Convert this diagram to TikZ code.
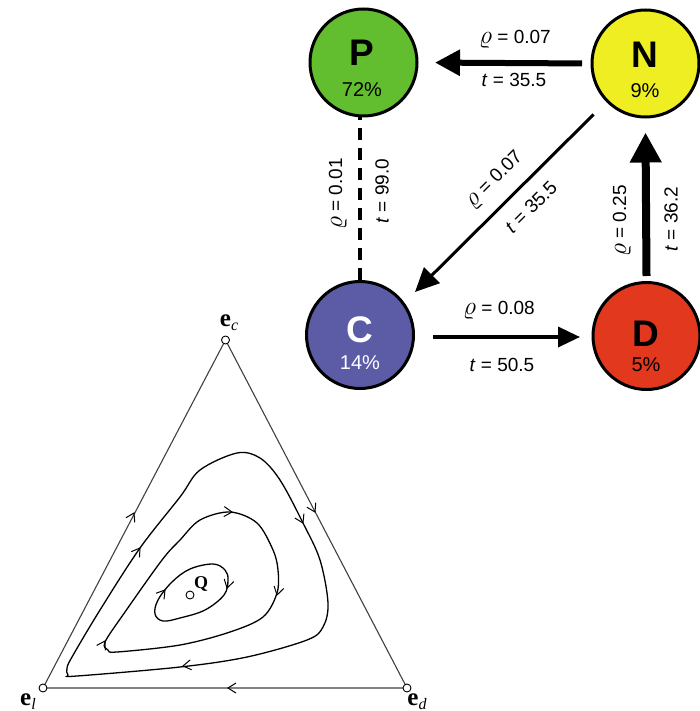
\RequirePackage{fix-cm}
\documentclass[tikz,border=0pt]{standalone}
\usepackage{fontspec}
\setmainfont{Liberation Sans}
\newfontfamily\tms{Liberation Serif}
\usetikzlibrary{arrows.meta,calc}
\definecolor{pgreen}{RGB}{98,189,47}
\definecolor{nyellow}{RGB}{238,238,34}
\definecolor{cblue}{RGB}{91,91,166}
\definecolor{dred}{RGB}{226,56,30}
\newcommand\mybarb[2]{\draw[barbline,shift={(#1)},rotate=#2] (-8,-5) -- (0,0) -- (-8,5);}
\newcommand\rh{\scalebox{1.35}{$\varrho$}}
\begin{document}
\begin{tikzpicture}[x=1pt,y=-1pt,
  state/.style={circle,draw=black,line width=3pt,minimum size=107pt,inner sep=0pt},
  big/.style={font=\fontsize{37}{37}\selectfont\bfseries,inner sep=0pt},
  pct/.style={font=\fontsize{20}{20}\selectfont,inner sep=0pt},
  lbl/.style={font=\fontsize{19}{19}\selectfont,inner sep=0pt},
  tri/.style={line width=1.1pt,draw=black!75},
  orbit/.style={line width=1.3pt},
  barbline/.style={line width=1pt},
  vtx/.style={circle,draw=black,fill=white,line width=0.9pt,minimum size=8pt,inner sep=0pt},
  elab/.style={font=\tms\fontsize{25}{25}\selectfont,inner sep=0pt}
]
\useasboundingbox (0,0) rectangle (700,711);

% ---------- network ----------
\node[state,fill=pgreen] (P) at (363.5,62.5) {};
\node[state,fill=nyellow] (N) at (645.5,63.5) {};
\node[state,fill=cblue] (C) at (360,335) {};
\node[state,fill=dred] (D) at (646.5,336) {};

\node[big] (Pt) at (362,53) {P};
\node[pct] (Pp) at (362,90) {72\%};
\node[big] (Nt) at (645,54.5) {N};
\node[pct] (Np) at (645,91) {9\%};
\node[big,text=white] (Ct) at (360,330) {C};
\node[pct,text=white] (Cp) at (360,363) {14\%};
\node[big] (Dt) at (646,333.5) {D};
\node[pct] (Dp) at (646,364.5) {5\%};

% N -> P
\draw[line width=6pt,-{Triangle[length=25pt,width=25pt]},shorten <=8.5pt,shorten >=16.5pt] (N.west) -- (P.east);
\node[lbl] (l1) at (515,39) {\rh{} = 0.07};
\node[lbl] (l2) at (514,80) {\textit{t} = 35.5};

% P - C dashed
\draw[line width=4pt,dash pattern=on 12pt off 8pt] (C.north) -- (C.north |- P.south);
\node[lbl,rotate=90] (l3) at (338,194) {\rh{} = 0.01};
\node[lbl,rotate=90] (l4) at (382,191) {\textit{t} = 99.0};

% N -> C
\draw[line width=3pt,-{Triangle[length=24pt,width=22pt]}] ($(N.center)+(-52,51)$) -- ($(C.center)+(55,-43)$);
\node[lbl,rotate=45] (l5) at (495,180) {\rh{} = 0.07};
\node[lbl,rotate=45] (l6) at (531,207) {\textit{t} = 35.5};

% D -> N
\draw[line width=8pt,-{Triangle[length=30pt,width=30pt]}] ([yshift=5pt]D.north) -- ([yshift=-14pt]N.south);
\node[lbl,rotate=90] (l7) at (622,221) {\rh{} = 0.25};
\node[lbl,rotate=90] (l8) at (671,219) {\textit{t} = 36.2};

% C -> D
\draw[line width=3.5pt,-{Triangle[length=22pt,width=20pt]},shorten <=18pt,shorten >=11.5pt] ([yshift=-2pt]C.east) -- ([yshift=-2pt]C.east -| D.west);
\node[lbl] (l9) at (499,310) {\rh{} = 0.08};
\node[lbl] (l10) at (502,365) {\textit{t} = 50.5};

% ---------- simplex ----------
\coordinate (ec) at (225.5,340);
\coordinate (el) at (43,688);
\coordinate (ed) at (407,688);
\draw[tri] (ec) -- (el) -- (ed) -- cycle;
\mybarb{134,513}{62.4}
\mybarb{315,512}{-62.5}
\mybarb{228,688}{180}

% outer orbit
\draw[orbit] plot[smooth cycle,tension=0.55] coordinates{
 (180,497) (200,470) (237,453) (260,458) (280,480) (303,523) (320,560) (328,603)
 (323,627) (307,640) (247,657) (180,667) (77,676) (68,675) (67,668) (72,657)
 (100,610) (140,548)};
\mybarb{140,548}{54.7}
\mybarb{303,523}{-63.4}
\mybarb{183,666}{-171.5}

% middle orbit
\draw[orbit] plot[smooth cycle,tension=0.55] coordinates{
 (180,540) (200,520) (230,512) (257,523) (273,550) (278,570) (277,593) (263,617)
 (230,632) (180,645) (117,652) (108,650) (105,642) (125,612) (162,560)};
\mybarb{232,512}{-3}
\mybarb{277,595}{-104}
\mybarb{105,641}{60}

% inner orbit
\draw[orbit] plot[smooth cycle,tension=0.6] coordinates{
 (213,564) (225,570) (228,580) (224,595) (205,610) (180,618) (163,621) (155,614)
 (158,600) (172,582) (190,569)};
\mybarb{165,590}{52}
\mybarb{227,588}{-105}

\node[vtx] (Q) at (190,595) {};
\node[font=\tms\bfseries\fontsize{18}{18}\selectfont,inner sep=0pt] (Ql) at (201,584) {Q};

\node[vtx] (vc) at (ec) {};
\node[vtx] (vl) at (el) {};
\node[vtx] (vd) at (ed) {};

\node[elab] (tc) at (229,323) {\textbf{e}\raisebox{-4pt}{\fontsize{16}{16}\selectfont\textit{c}}};
\node[elab] (tl) at (28,702) {\textbf{e}\raisebox{-4pt}{\fontsize{16}{16}\selectfont\textit{l}}};
\node[elab] (td) at (417,702) {\textbf{e}\raisebox{-4pt}{\fontsize{16}{16}\selectfont\textit{d}}};
\end{tikzpicture}
\end{document}
